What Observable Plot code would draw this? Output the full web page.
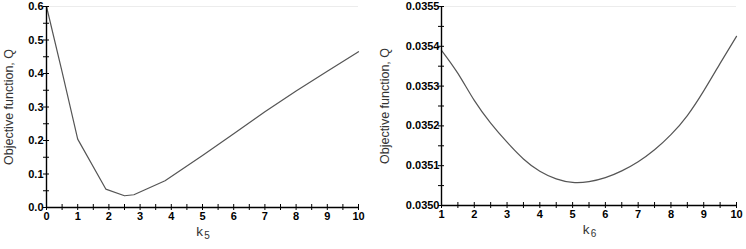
<!DOCTYPE html>
<html><head><meta charset="utf-8">
<script src="https://cdn.jsdelivr.net/npm/d3@7"></script>
<script src="https://cdn.jsdelivr.net/npm/@observablehq/plot@0.6"></script>
<style>
body{margin:0;background:#fff}
#c{display:flex;width:746px;height:249px}
#c svg{display:block}
</style>
</head><body><div id="c"></div>
<script>
// Left panel: objective function vs k5
const k5 = [0, 0.5, 1, 1.9, 2.5, 2.8, 3.8, 5, 6, 7, 8, 9, 10];
const q5 = [0.6, 0.405, 0.204, 0.055, 0.035, 0.038, 0.08, 0.155, 0.22, 0.286, 0.348, 0.407, 0.465];
const xTicks5 = [0, 1, 2, 3, 4, 5, 6, 7, 8, 9, 10];
const yTicks5 = [0, 0.1, 0.2, 0.3, 0.4, 0.5, 0.6];

// Right panel: objective function vs k6
const k6 = [1, 1.5, 2, 2.5, 3, 3.5, 4, 4.5, 5, 5.5, 6, 6.5, 7, 7.5, 8, 8.5, 9, 9.5, 10];
const q6 = [0.03539, 0.035332, 0.035264, 0.035207, 0.035159, 0.035117, 0.035086, 0.035067, 0.035058, 0.03506,
            0.03507, 0.035087, 0.03511, 0.03514, 0.035178, 0.035226, 0.035288, 0.035357, 0.035425];
const xTicks6 = [1, 2, 3, 4, 5, 6, 7, 8, 9, 10];
const yTicks6 = [0.035, 0.0351, 0.0352, 0.0353, 0.0354, 0.0355];

const yLabel = "Objective function, Q";

function panel({xs, ys, xDomain, yDomain, xTicks, yTicks, xMinor, yMinor, yFmt, xSub,
                marginLeft, marginRight, marginBottom, yLabelDx, curve, tickPad}) {
  const data = xs.map((x, i) => ({x, y: ys[i]}));
  const W = 373, H = 249, mt = 6;
  const plotH = H - mt - marginBottom;
  const plotW = W - marginLeft - marginRight;
  return Plot.plot({
    width: W, height: H,
    marginLeft, marginRight, marginTop: mt, marginBottom,
    style: {fontFamily: "'Liberation Sans', Arial, sans-serif", background: "#fff", overflow: "visible"},
    x: {domain: xDomain, axis: null},
    y: {domain: yDomain, axis: null},
    marks: [
      Plot.ruleY([yDomain[1]], {stroke: "#ececec"}),
      Plot.line(data, {x: "x", y: "y", stroke: "#555", strokeWidth: 1.2, curve}),
      Plot.ruleY([yDomain[0]], {stroke: "#000", strokeWidth: 1.4}),
      Plot.ruleX([xDomain[0]], {stroke: "#000", strokeWidth: 1.4}),
      Plot.tickX(xMinor, {x: d => d, stroke: "#000", insetTop: plotH - 3, insetBottom: -3}),
      Plot.tickY(yMinor, {y: d => d, stroke: "#000", insetLeft: -3, insetRight: plotW - 3}),
      Plot.axisX({ticks: xTicks, tickSize: 0, tickPadding: 5, tickFormat: d => String(d),
                  label: null, fontSize: 11, fontWeight: "bold", fill: "#000"}),
      Plot.axisY({ticks: yTicks, tickSize: 0, tickPadding: tickPad, tickFormat: yFmt,
                  label: null, fontSize: 11, fontWeight: "bold", fill: "#000"}),
      Plot.text([yLabel], {text: d => d, frameAnchor: "left", textAnchor: "middle", rotate: -90, dx: yLabelDx,
                  fontSize: 12.5, fill: "#333"}),
      Plot.text(["k"], {text: d => d, frameAnchor: "bottom", dx: -3, dy: 28, fontSize: 13.5, fill: "#333"}),
      Plot.text([xSub], {text: d => d, frameAnchor: "bottom", dx: 4.5, dy: 31, fontSize: 10, fill: "#333"})
    ]
  });
}

const c = document.getElementById("c");
c.append(panel({
  xs: k5, ys: q5, xDomain: [0, 10], yDomain: [0, 0.6],
  xTicks: xTicks5, yTicks: yTicks5,
  xMinor: d3.range(0, 10.001, 0.5), yMinor: d3.range(0, 0.6001, 0.05),
  yFmt: d3.format(".1f"), xSub: "5",
  marginLeft: 46, marginRight: 15, marginBottom: 42, yLabelDx: -38, curve: "linear", tickPad: 3
}));
c.append(panel({
  xs: k6, ys: q6, xDomain: [1, 10], yDomain: [0.035, 0.0355],
  xTicks: xTicks6, yTicks: yTicks6,
  xMinor: d3.range(1, 10.001, 0.5), yMinor: d3.range(0.035, 0.0355001, 0.00005),
  yFmt: d3.format(".4f"), xSub: "6",
  marginLeft: 68, marginRight: 10, marginBottom: 44, yLabelDx: -57, curve: "natural", tickPad: 2
}));
</script>
</body></html>
